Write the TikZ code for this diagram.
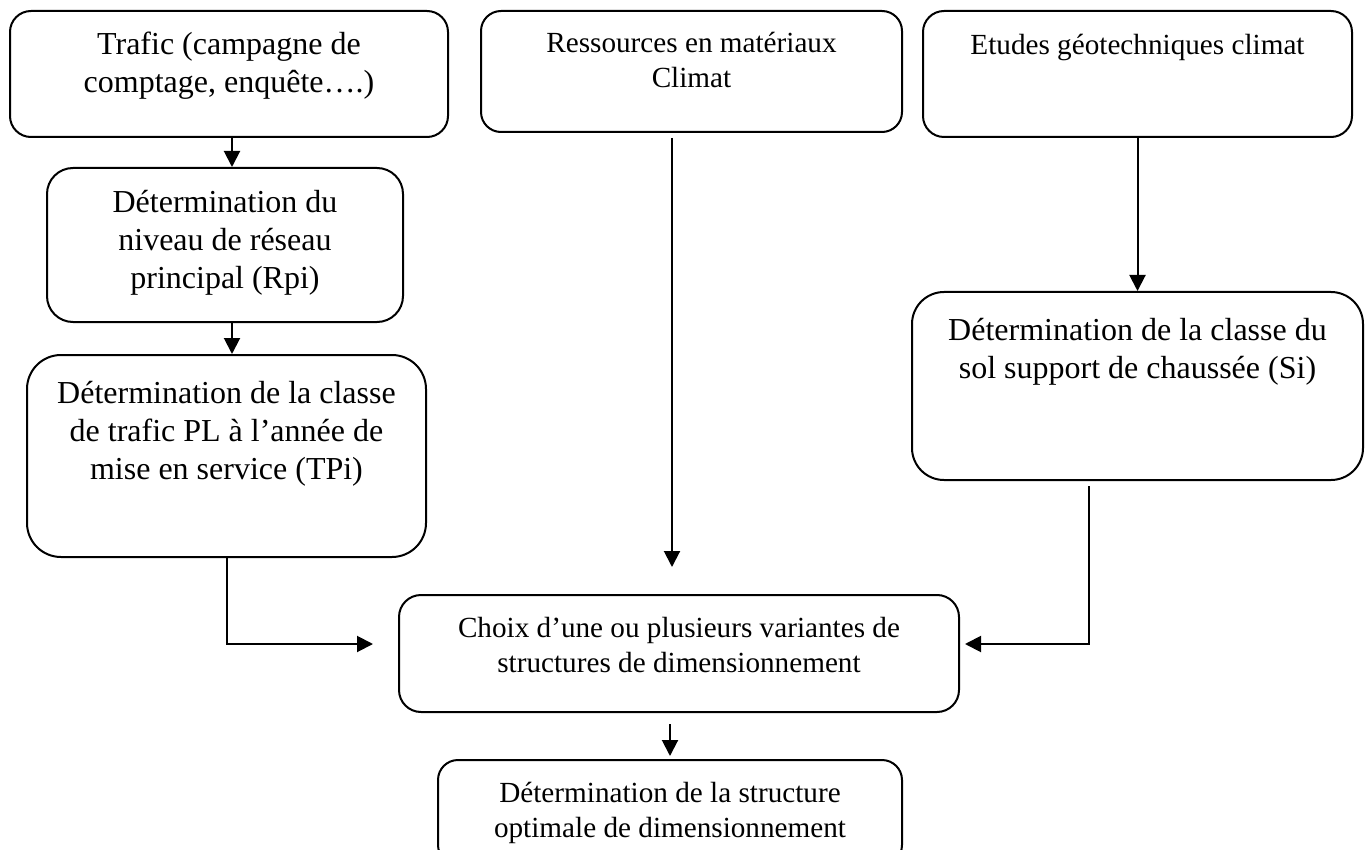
\documentclass[tikz,border=0pt]{standalone}
\usepackage{fontspec}
\setmainfont{Liberation Serif}
\usetikzlibrary{arrows.meta,calc}
\newcommand\boxtext[4]{\parbox[c][#2][t]{#1}{\centering\vspace*{#3}#4}}
\begin{document}
\begin{tikzpicture}[x=0.5pt,y=-0.5pt,
  box/.style={draw, line width=1pt, inner sep=0pt},
  big/.style={font=\fontsize{16}{19}\selectfont},
  small/.style={font=\fontsize{14.6}{17.5}\selectfont},
  arr/.style={line width=1pt, -{Triangle[length=8pt,width=8pt]}}]
\useasboundingbox (0,0) rectangle (1365,850);
\node[box, big, rounded corners=10.5pt] (trafic) at (229,74)
  {\boxtext{219pt}{63pt}{8.7pt}{\strut Trafic (campagne de\\\strut comptage, enquête….)}};
\node[box, big, rounded corners=13pt] (rpi) at (225,245)
  {\boxtext{178pt}{77pt}{9.2pt}{\strut Détermination du\\\strut niveau de réseau\\\strut principal (Rpi)}};
\node[box, big, rounded corners=17pt] (tpi) at (226.5,456)
  {\boxtext{199.5pt}{101pt}{10.7pt}{\strut Détermination de la classe\\\strut de trafic PL à l’année de\\\strut mise en service (TPi)}};
\node[box, small, rounded corners=10pt] (res) at (691.5,71.5)
  {\boxtext{210.5pt}{60.5pt}{8.75pt}{\strut Ressources en matériaux\\\strut Climat}};
\node[box, small, rounded corners=10.5pt] (etu) at (1137.5,74)
  {\boxtext{214.5pt}{63pt}{9.75pt}{\strut Etudes géotechniques climat}};
\node[box, big, rounded corners=16pt] (si) at (1137.5,386)
  {\boxtext{225.5pt}{94pt}{10.7pt}{\strut Détermination de la classe du\\\strut sol support de chaussée (Si)}};
\node[box, small, rounded corners=11pt] (choix) at (679,653.5)
  {\boxtext{280pt}{58.5pt}{8.75pt}{\strut Choix d’une ou plusieurs variantes de\\\strut structures de dimensionnement}};
\node[box, small, rounded corners=10pt] (opt) at (670,812.5)
  {\boxtext{232pt}{52.5pt}{8.75pt}{\strut Détermination de la structure\\\strut optimale de dimensionnement}};
% connectors
\path (trafic.south) ++(3,0) coordinate (a1);
\draw[arr] (a1) -- (a1 |- rpi.north);
\path (rpi.south) ++(7,0) coordinate (a2);
\draw[arr] (a2) -- (a2 |- tpi.north);
\coordinate (tpiend) at (373,644);
\draw[arr] (tpi.south) |- (tpiend);
\path (res.south) ++(-19.5,5) coordinate (r1);
\coordinate (rend) at (672,567);
\draw[arr] (r1) -- (rend);
\draw[arr] (etu.south) -- (si.north);
\path (si.south) ++(-48.5,5) coordinate (s1);
\coordinate (send) at (965,644);
\draw[arr] (s1) |- (send);
\path (choix.south) ++(-9,11) coordinate (c1);
\draw[arr, shorten >=1.5pt] (c1) -- (c1 |- opt.north);
\end{tikzpicture}
\end{document}
